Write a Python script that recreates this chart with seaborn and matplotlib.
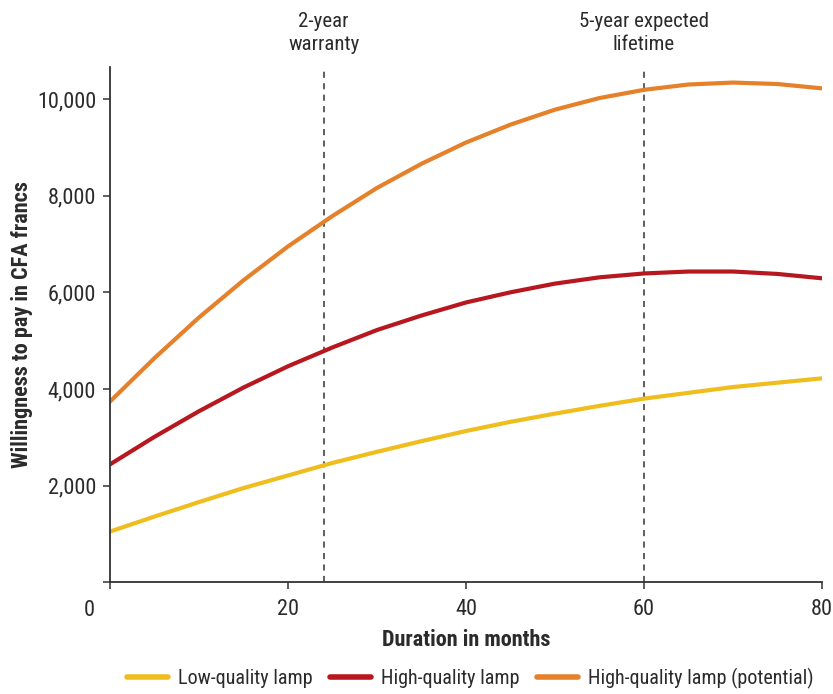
import pandas as pd
import seaborn as sns
import matplotlib.pyplot as plt

# Values (willingness to pay, CFA francs) every 5 months
months = [0, 5, 10, 15, 20, 25, 30, 35, 40, 45, 50, 55, 60, 65, 70, 75, 80]
low_quality = [1050, 1360, 1660, 1950, 2210, 2470, 2700, 2920, 3130, 3320,
               3490, 3650, 3800, 3920, 4040, 4130, 4220]
high_quality = [2440, 3010, 3540, 4030, 4470, 4860, 5220, 5520, 5790, 6000,
                6180, 6310, 6390, 6430, 6430, 6380, 6290]
high_potential = [3740, 4640, 5480, 6250, 6950, 7580, 8160, 8660, 9100, 9470,
                  9780, 10020, 10190, 10300, 10340, 10310, 10220]

series_names = ['Low-quality lamp', 'High-quality lamp', 'High-quality lamp (potential)']
series_colors = ['#EFBE1E', '#B7171F', '#E5812B']

markers = [24, 60]
marker_labels = ['2-year\nwarranty', '5-year expected\nlifetime']

x_ticks = [0, 20, 40, 60, 80]
y_ticks = [0, 2000, 4000, 6000, 8000, 10000]

df = pd.DataFrame({
    'month': months * 3,
    'wtp': low_quality + high_quality + high_potential,
    'series': [series_names[0]] * len(months) + [series_names[1]] * len(months)
              + [series_names[2]] * len(months),
})

sns.set_theme(style='ticks')
plt.rcParams['font.family'] = ['Roboto Condensed', 'Lato', 'DejaVu Sans']
text_col = '#2b2b2b'

fig = plt.figure(figsize=(8.33, 6.94), dpi=100)
ax = fig.add_axes([0.1321, 0.161, 0.8547, 0.743])

sns.lineplot(data=df, x='month', y='wtp', hue='series', hue_order=series_names,
             palette=series_colors, linewidth=3, ax=ax)

# vertical reference lines with labels above the plot
for m, lab in zip(markers, marker_labels):
    ax.axvline(m, color='#333333', lw=1.1, ls=(0, (4, 3.5)), zorder=1)
    ax.text(m, 1.024, lab, transform=ax.get_xaxis_transform(), ha='center', va='bottom',
            fontsize=15, color=text_col, linespacing=1.3)

ax.set_xlim(0, 80)
ax.set_ylim(0, 10670)
ax.set_xticks(x_ticks)
ax.set_xticklabels([''] + [str(t) for t in x_ticks[1:]])
ax.set_yticks(y_ticks)
ax.set_yticklabels([''] + [f'{t:,}' for t in y_ticks[1:]])
ax.annotate('0', xy=(0, 0), xycoords='data', xytext=(-15, -13), textcoords='offset points',
            ha='center', va='top', fontsize=16, color=text_col)

ax.tick_params(axis='both', direction='out', length=5, width=1.1, color='#333333',
               labelsize=16, labelcolor=text_col)
ax.tick_params(axis='x', pad=7)
ax.tick_params(axis='y', pad=5)
for side in ['left', 'bottom']:
    ax.spines[side].set_color('#333333')
    ax.spines[side].set_linewidth(1.3)
sns.despine(ax=ax)

ax.set_xlabel('Duration in months', fontsize=16, fontweight='bold', color=text_col)
ax.set_ylabel('Willingness to pay in CFA francs', fontsize=16, fontweight='bold',
              color=text_col)
ax.xaxis.label.set_va('center')
ax.yaxis.label.set_va('center')
ax.xaxis.set_label_coords(0.5, -0.111)
ax.yaxis.set_label_coords(-0.123, 0.5)

sns.move_legend(ax, 'center', bbox_to_anchor=(0.506, -0.186), ncol=3, frameon=False,
                title=None, fontsize=14.5, handlelength=2.0, handletextpad=0.5,
                columnspacing=0.9)
for line in ax.get_legend().get_lines():
    line.set_linewidth(4)
for t in ax.get_legend().get_texts():
    t.set_color(text_col)

fig.savefig('out.png', dpi=100)
